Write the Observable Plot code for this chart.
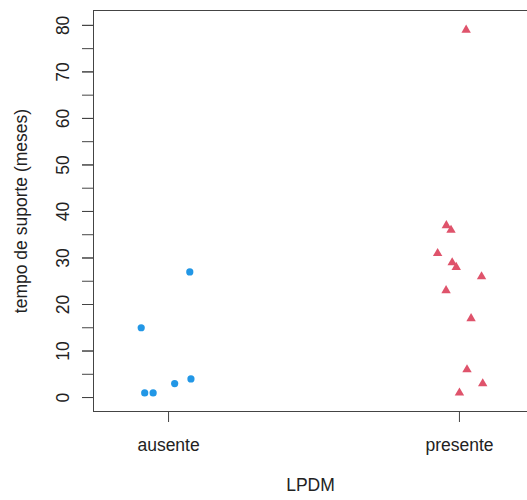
<!DOCTYPE html>
<html>
<head>
<meta charset="utf-8">
<script src="https://cdn.jsdelivr.net/npm/d3@7"></script>
<script src="https://cdn.jsdelivr.net/npm/@observablehq/plot@0.6"></script>
<style>
  html, body { margin: 0; padding: 0; background: #fff; }
</style>
</head>
<body>
<div id="chart"></div>
<script>
// Categories and tick labels
const categories = ["ausente", "presente"];
const categoryPositions = [1, 2];
const majorTicks = [0, 10, 20, 30, 40, 50, 60, 70, 80];
const minorTicks = [0, 5, 10, 15, 20, 25, 30, 35, 40, 45, 50, 55, 60, 65, 70, 75, 80];

// Series values (tempo de suporte, meses) with the horizontal jitter
const ausenteValues = [15, 1, 1, 3, 4, 27];
const ausenteJitter = [-0.094, -0.082, -0.053, 0.021, 0.077, 0.073];
const presenteValues = [79, 37, 36, 31, 29, 28, 26, 23, 17, 6, 3, 1];
const presenteJitter = [0.023, -0.045, -0.029, -0.075, -0.025, -0.011, 0.076, -0.046, 0.040, 0.026, 0.080, 0.0];

const yLabel = "tempo de suporte (meses)";
const xLabel = "LPDM";

const xDomain = [0.742, 2.258];
const yDomain = [-3.0, 83.2];

const points = [
  ...ausenteValues.map((v, i) => ({group: categories[0], x: categoryPositions[0] + ausenteJitter[i], y: v})),
  ...presenteValues.map((v, i) => ({group: categories[1], x: categoryPositions[1] + presenteJitter[i], y: v}))
];

const boxColor = "#444";
const textColor = "#222";
const fontSize = 17.5;

const chart = Plot.plot({
  width: 527,
  height: 500,
  marginLeft: 93,
  marginTop: 10,
  marginBottom: 89,
  marginRight: 0,
  style: {fontFamily: "'Liberation Sans', Arial, sans-serif", fontSize: fontSize + "px", color: textColor, background: "#fff"},
  x: {domain: xDomain, range: [93, 534], label: null},
  y: {domain: yDomain, range: [411, 10], label: null},
  marks: [
    // plot box (right edge lies outside the picture)
    Plot.ruleY([yDomain[0], yDomain[1]], {stroke: boxColor, strokeWidth: 1}),
    Plot.ruleX([xDomain[0]], {stroke: boxColor, strokeWidth: 1}),
    // y axis: minor + major ticks
    Plot.axisY(minorTicks, {tickSize: 11, stroke: boxColor, tickFormat: () => "", label: null}),
    Plot.axisY(majorTicks, {tickSize: 11, stroke: boxColor, tickRotate: -90, tickPadding: 14, fontSize: fontSize, fill: textColor, label: null}),
    // x axis
    Plot.axisX(categoryPositions, {tickSize: 11, stroke: boxColor, tickPadding: 16, tickFormat: d => categories[d - 1], fontSize: fontSize, fill: textColor, label: null}),
    // axis titles
    Plot.text([yLabel], {frameAnchor: "left", textAnchor: "middle", rotate: -90, dx: -72, fontSize: fontSize, fill: textColor}),
    Plot.text([xLabel], {frameAnchor: "bottom", textAnchor: "middle", dy: 79, fontSize: fontSize, fill: textColor}),
    // points
    Plot.dot(points.filter(d => d.group === categories[0]), {x: "x", y: "y", r: 3.6, symbol: "circle", fill: "#2297E6", stroke: "none"}),
    Plot.dot(points.filter(d => d.group === categories[1]), {x: "x", y: "y", r: 3.5, symbol: "triangle", fill: "#DF536B", stroke: "none"})
  ]
});

document.getElementById("chart").append(chart);
</script>
</body>
</html>
